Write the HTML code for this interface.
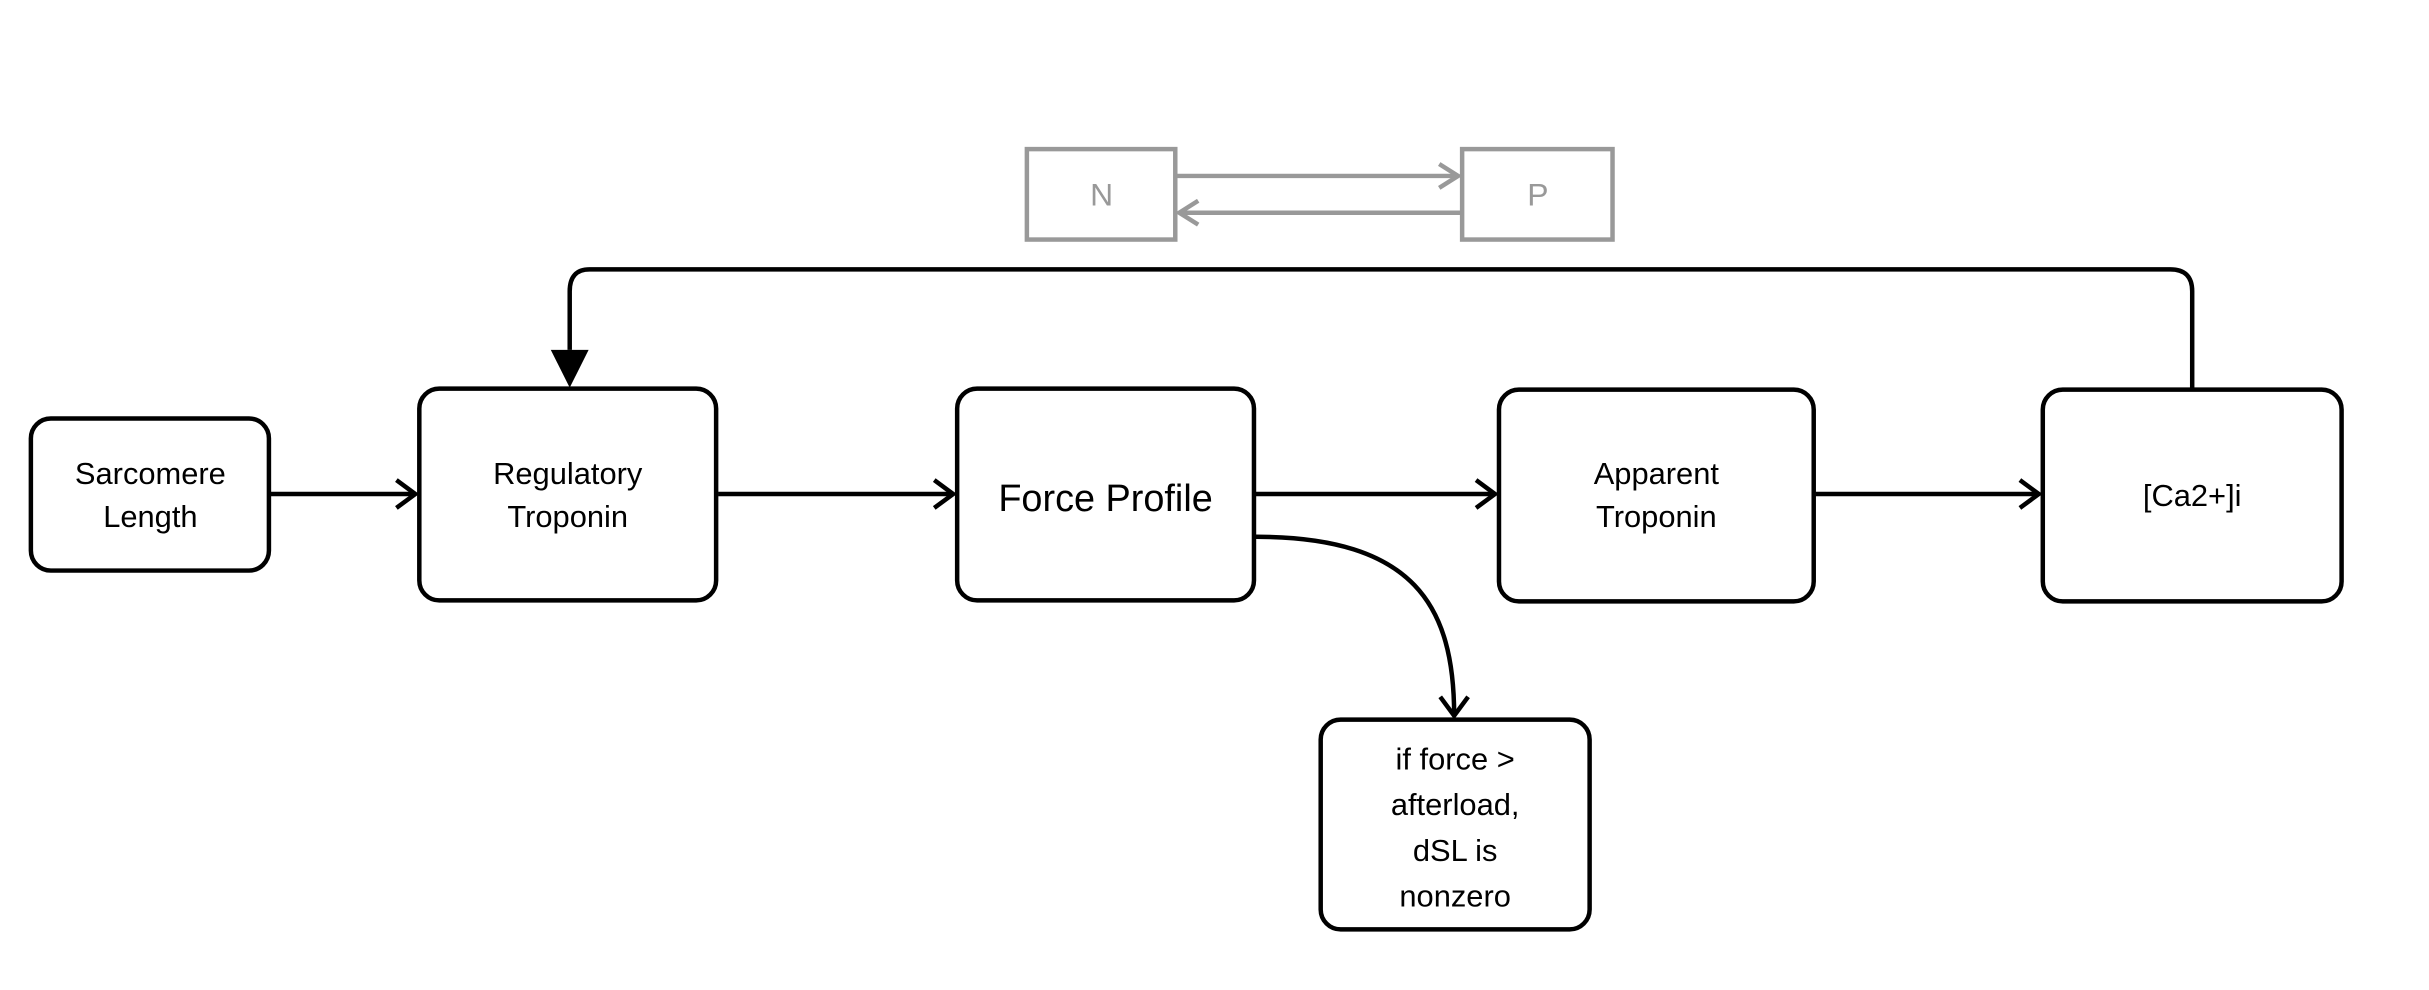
<!DOCTYPE html>
<html><head><style>
html,body{margin:0;padding:0;background:#fff;}
svg{display:block;}
text{font-family:"Liberation Sans",Arial,sans-serif;text-anchor:middle;}
</style></head><body>
<svg width="2429" height="990" viewBox="0 0 2429 990" xmlns="http://www.w3.org/2000/svg">
<defs>
<marker id="oa" markerWidth="26" markerHeight="34" refX="22" refY="17" orient="auto" markerUnits="userSpaceOnUse"><path d="M3,3 L22,17 L3,31" fill="none" stroke="#000" stroke-width="4.5"/></marker>
<marker id="ga" markerWidth="26" markerHeight="34" refX="22" refY="17" orient="auto" markerUnits="userSpaceOnUse"><path d="M3,5 L22,17 L3,29" fill="none" stroke="#999" stroke-width="4.5"/></marker>
</defs>
<g transform="scale(0.996,0.994)">
<g fill="#fff" stroke="#000" stroke-width="4.5">
<rect x="31" y="421" width="239" height="153" rx="20"/>
<rect x="421" y="391" width="298" height="213" rx="20"/>
<rect x="961" y="391" width="298" height="213" rx="20"/>
<rect x="1505" y="392" width="316" height="213" rx="20"/>
<rect x="2051" y="392" width="300" height="213" rx="20"/>
<rect x="1326" y="724" width="270" height="211" rx="20"/>
</g>
<g fill="#fff" stroke="#999" stroke-width="4.5">
<rect x="1031" y="150" width="149" height="91"/>
<rect x="1468" y="150" width="151" height="91"/>
</g>
<g stroke="#999" stroke-width="4.5" fill="none">
<line x1="1182" y1="177" x2="1464" y2="177" marker-end="url(#ga)"/>
<line x1="1466" y1="214" x2="1184" y2="214" marker-end="url(#ga)"/>
</g>
<g stroke="#000" stroke-width="4.5" fill="none">
<line x1="272" y1="497" x2="417" y2="497" marker-end="url(#oa)"/>
<line x1="721" y1="497" x2="957" y2="497" marker-end="url(#oa)"/>
<line x1="1261" y1="497" x2="1501" y2="497" marker-end="url(#oa)"/>
<line x1="1823" y1="497" x2="2047" y2="497" marker-end="url(#oa)"/>
<path d="M2201,390 L2201,293 Q2201,271 2179,271 L592,271 Q572,271 572,293 L572,352"/>
<path d="M1261,540 C1420,540 1460,610 1460,720" marker-end="url(#oa)"/>
</g>
<path d="M553,352 L591,352 L572,390 Z" fill="#000"/>
<g font-size="31" fill="#000">
<text x="151" y="487">Sarcomere</text>
<text x="151" y="530">Length</text>
<text x="570" y="487">Regulatory</text>
<text x="570" y="530">Troponin</text>
<text x="1110" y="514" font-size="38">Force Profile</text>
<text x="1663" y="487">Apparent</text>
<text x="1663" y="530">Troponin</text>
<text x="2201" y="509">[Ca2+]i</text>
<text x="1461" y="774">if force &gt;</text>
<text x="1461" y="820">afterload,</text>
<text x="1461" y="866">dSL is</text>
<text x="1461" y="912">nonzero</text>
</g>
<g font-size="32" fill="#999">
<text x="1106" y="207">N</text>
<text x="1544" y="207">P</text>
</g>
</g>
</svg>
</body></html>
